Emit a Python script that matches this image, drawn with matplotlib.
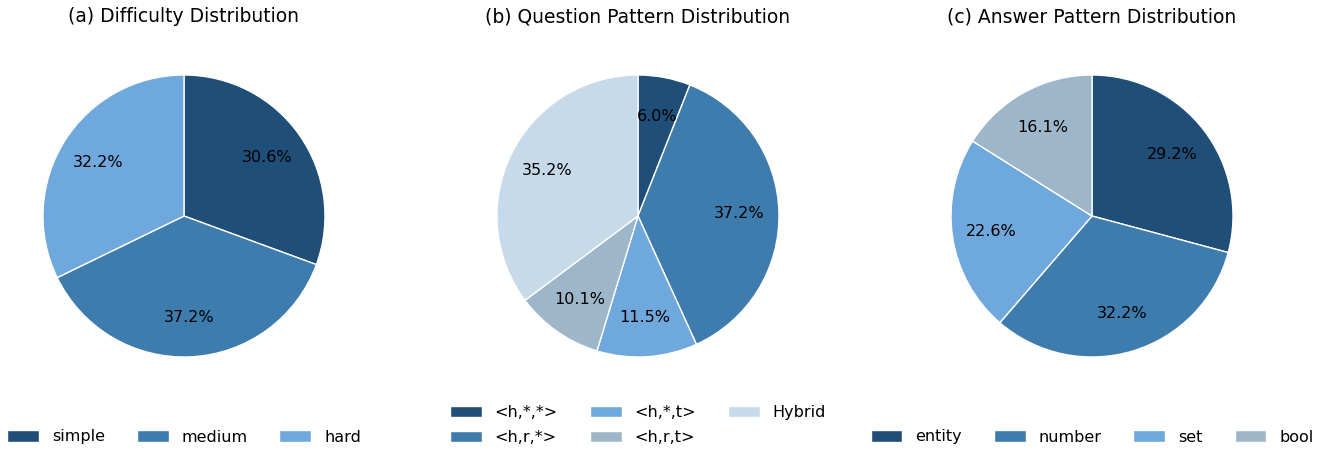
import matplotlib
matplotlib.use("Agg")
import matplotlib.pyplot as plt

W, H = 1325, 451

diff_labels = ["simple", "medium", "hard"]
diff_values = [30.6, 37.2, 32.2]

q_labels = ["<h,*,*>", "<h,r,*>", "<h,*,t>", "<h,r,t>", "Hybrid"]
q_values = [6.0, 37.2, 11.5, 10.1, 35.2]

a_labels = ["entity", "number", "set", "bool"]
a_values = [29.2, 32.2, 22.6, 16.1]

titles = ["(a) Difficulty Distribution", "(b) Question Pattern Distribution",
          "(c) Answer Pattern Distribution"]

colors = ["#1f4e79", "#3e7cad", "#6fa8dc", "#9db6ca", "#c6dae9"]

fig = plt.figure(figsize=(W / 100, H / 100), dpi=100)

centers = [184, 638, 1092]
cy = 216
r = 141
datasets = [(diff_labels, diff_values, 3), (q_labels, q_values, 3), (a_labels, a_values, 4)]

for i, (cx, (labels, vals, ncol)) in enumerate(zip(centers, datasets)):
    ax = fig.add_axes([(cx - r) / W, (H - cy - r) / H, 2 * r / W, 2 * r / H])
    wedges, _, autotexts = ax.pie(vals, colors=colors[:len(vals)], startangle=90,
                                  counterclock=False, autopct="%1.1f%%", pctdistance=0.72,
                                  wedgeprops=dict(edgecolor="white", linewidth=1.0),
                                  textprops=dict(fontsize=11.5, color="black"))
    ax.set_xlim(-1, 1)
    ax.set_ylim(-1, 1)
    ax.set_aspect("equal")
    fig.text(cx / W, 1 - 17 / H, titles[i], ha="center", va="center", fontsize=13.5)
    ly = 425 if i == 1 else 437
    fig.legend(wedges, labels, loc="center", bbox_to_anchor=(cx / W, 1 - ly / H),
               ncol=ncol, frameon=False, fontsize=11.5, columnspacing=2.0,
               handlelength=2.0, handletextpad=0.8, labelspacing=0.6)

fig.savefig("out.png", dpi=100)
